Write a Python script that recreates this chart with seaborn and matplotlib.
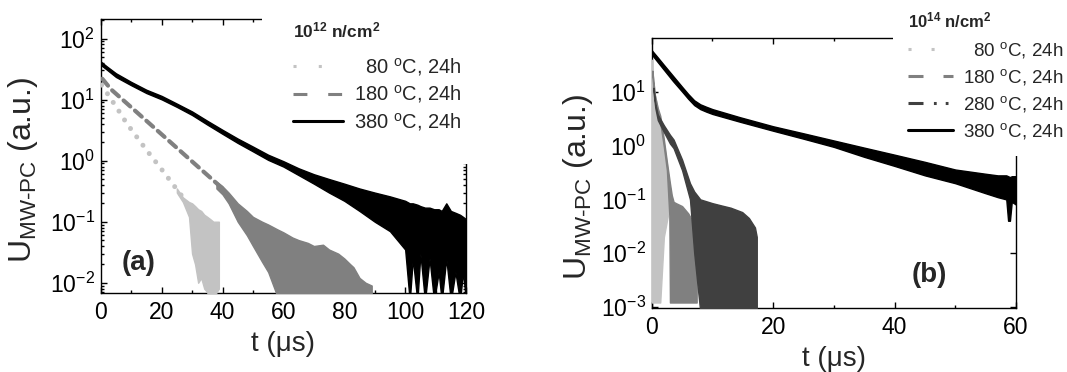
import numpy as np
import pandas as pd
import matplotlib
matplotlib.use("Agg")
import matplotlib.pyplot as plt
import seaborn as sns
from matplotlib.lines import Line2D
from matplotlib.ticker import LogLocator, MultipleLocator, NullFormatter, FixedLocator

# ---------------- data: panel (a) 10^12 n/cm^2 ----------------
a80_line_t = [0.3, 2.5, 5.8, 8.5, 15, 20, 27]
a80_line_v = [17.3, 11.9, 6.7, 4.1, 1.5, 0.72, 0.25]
a80_band_t = [25, 27, 29, 30, 31, 32, 33, 34, 35, 36, 37, 38, 38.8]
a80_band_hi = [0.35, 0.25, 0.21, 0.2, 0.18, 0.16, 0.15, 0.13, 0.12, 0.11, 0.1, 0.1, 0.1]
a80_band_lo = [0.3, 0.21, 0.12, 0.03, 0.02, 0.01, 0.012, 0.008, 0.007, 0.004, 0.004, 0.007, 0.008]

a180_line_t = [0.5, 3.4, 10, 20, 30, 40]
a180_line_v = [22, 14.7, 7.5, 2.7, 0.97, 0.35]
a180_band_t = [38, 40, 42, 45, 48, 50, 53, 55, 58, 60, 63, 65, 68, 70, 73, 75, 78, 80, 82, 83, 85, 87, 89]
a180_band_hi = [0.45, 0.38, 0.3, 0.2, 0.15, 0.12, 0.1, 0.09, 0.075, 0.067, 0.055, 0.05, 0.045, 0.04,
                0.042, 0.035, 0.03, 0.025, 0.02, 0.018, 0.012, 0.01, 0.009]
a180_band_lo = [0.35, 0.28, 0.2, 0.1, 0.06, 0.04, 0.022, 0.015, 0.006, 0.005, 0.005, 0.005, 0.005, 0.005,
                0.005, 0.005, 0.005, 0.005, 0.005, 0.005, 0.005, 0.005, 0.005]

a380_t = [0, 2, 5, 10, 15, 20, 25, 30, 35, 40, 45, 50, 55, 60, 65, 70, 75, 80, 85, 90, 95, 100,
          101.5, 102.5, 104, 105, 106.5, 108, 109.5, 111, 112, 113.5, 115, 116.5, 118, 119, 120]
a380_hi = [42, 35, 27, 19.5, 14.5, 11.5, 8.6, 6.4, 4.5, 3.2, 2.3, 1.7, 1.25, 0.98, 0.75, 0.6, 0.5, 0.42,
           0.35, 0.3, 0.26, 0.22, 0.2, 0.2, 0.19, 0.18, 0.17, 0.17, 0.16, 0.16, 0.15, 0.2, 0.15, 0.14,
           0.13, 0.12, 0.11]
a380_lo = [37, 31, 23.5, 17.2, 12.8, 10.1, 7.6, 5.6, 3.9, 2.75, 1.95, 1.42, 1.03, 0.8, 0.58, 0.42, 0.3,
           0.22, 0.15, 0.1, 0.07, 0.035, 0.005, 0.025, 0.005, 0.03, 0.005, 0.025, 0.005, 0.015, 0.005, 0.025,
           0.005, 0.015, 0.005, 0.015, 0.005]

# ---------------- data: panel (b) 10^14 n/cm^2 ----------------
b80_t = [0, 0.05, 0.5, 1.0, 1.4, 2.0, 2.5, 2.8, 3.3]
b80_hi = [40, 30, 9, 4.5, 3.2, 1.1, 0.45, 0.22, 0.1]
b80_lo = [40, 0.0012, 0.0012, 0.0012, 0.0012, 0.02, 0.04, 0.06, 0.1]

b180_t = [0.1, 0.5, 1.0, 1.4, 2.0, 2.5, 2.9, 3.0, 3.3, 3.6, 4.0, 5.0, 6.0, 7.0, 7.4]
b180_hi = [25, 9, 5, 3.6, 1.3, 0.5, 0.24, 0.2, 0.12, 0.09, 0.085, 0.075, 0.055, 0.035, 0.02]
b180_lo = [20, 7, 3.8, 2.7, 0.95, 0.35, 0.05, 0.0012, 0.0012, 0.0012, 0.0012, 0.0012, 0.0012, 0.0012, 0.0012]

b280_t = [0.3, 0.6, 1.0, 2.0, 3.0, 3.6, 5.0, 6.3, 7.0, 8.0, 10, 11.5, 13, 14.9, 16, 17.0, 17.3]
b280_hi = [12, 6, 3.8, 2.4, 1.6, 1.3, 0.55, 0.2, 0.14, 0.1, 0.085, 0.077, 0.07, 0.058, 0.045, 0.03, 0.02]
b280_lo = [10, 5, 3.0, 1.8, 1.1, 0.9, 0.35, 0.1, 0.01, 0.0008, 0.0008, 0.0008, 0.0008, 0.0008, 0.0008,
           0.0008, 0.0008]

b380_t = [0, 1, 2, 3.5, 5, 6, 7, 8, 9, 10, 14.5, 20, 25, 30, 35, 40, 45, 50, 55, 57, 58.4, 58.7, 59.0,
          59.3, 60]
b380_hi = [60, 44, 32, 20, 12.5, 9.2, 7.0, 5.9, 5.3, 4.8, 3.4, 2.3, 1.7, 1.25, 0.92, 0.68, 0.5, 0.36,
           0.3, 0.28, 0.28, 0.27, 0.26, 0.27, 0.27]
b380_lo = [50, 36, 26, 16, 10.2, 7.5, 5.7, 4.8, 4.3, 3.9, 2.8, 1.9, 1.35, 0.95, 0.62, 0.42, 0.28, 0.2,
           0.13, 0.11, 0.1, 0.04, 0.04, 0.09, 0.08]

a_labels = ["  80 $^{\\rm o}$C, 24h", "180 $^{\\rm o}$C, 24h", "380 $^{\\rm o}$C, 24h"]
b_labels = ["  80 $^{\\rm o}$C, 24h", "180 $^{\\rm o}$C, 24h", "280 $^{\\rm o}$C, 24h", "380 $^{\\rm o}$C, 24h"]
a_title = r"$\mathbf{10^{12}}$ n/cm$\mathbf{^{2}}$"
b_title = r"$\mathbf{10^{14}}$ n/cm$\mathbf{^{2}}$"

C80, C180, C280, C380 = "#c3c3c3", "#808080", "#404040", "#000000"

# ---------------- style ----------------
sns.set_theme(style="ticks")
plt.rcParams["font.family"] = ["Liberation Sans", "DejaVu Sans"]
plt.rcParams["mathtext.fontset"] = "custom"
plt.rcParams["mathtext.rm"] = "Liberation Sans"
plt.rcParams["mathtext.it"] = "Liberation Sans:italic"
plt.rcParams["mathtext.bf"] = "Liberation Sans:bold"
plt.rcParams["lines.scale_dashes"] = False
plt.rcParams["axes.linewidth"] = 1.0

fig = plt.figure(figsize=(10.67, 3.72), dpi=100)
axA = fig.add_axes([0.0944, 0.2124, 0.3424, 0.7358])
axB = fig.add_axes([0.6108, 0.1728, 0.3414, 0.7242])


def style_axis(ax, xmax, xmajor, xminor, ylim, yticks, xpad):
    ax.set_yscale("log")
    ax.set_xlim(0, xmax)
    ax.set_ylim(*ylim)
    ax.xaxis.set_major_locator(MultipleLocator(xmajor))
    ax.xaxis.set_minor_locator(MultipleLocator(xminor))
    ax.yaxis.set_major_locator(FixedLocator(yticks))
    ax.yaxis.set_minor_locator(LogLocator(base=10, subs=np.arange(2, 10)))
    ax.yaxis.set_minor_formatter(NullFormatter())
    ax.tick_params(which="both", direction="in", top=True, right=True, colors="black",
                   labelsize=16.5, width=1.0)
    ax.tick_params(which="major", length=4.5, pad=6)
    ax.tick_params(which="minor", length=2.5)
    ax.tick_params(axis="y", which="major", pad=4)
    for s in ax.spines.values():
        s.set_color("black")
        s.set_linewidth(1.0)
    ax.set_xlabel("t (μs)", fontsize=20, labelpad=xpad)
    ax.set_ylabel(r"U$_{\rm MW\text{-}PC}$ (a.u.)", fontsize=23)
    ax.grid(False)


# ---------------- panel (a) ----------------
axA.fill_between(a80_band_t, a80_band_lo, a80_band_hi, color=C80, lw=1.0, zorder=3)
sns.lineplot(x=a80_line_t, y=a80_line_v, ax=axA, color=C80, lw=3.6, errorbar=None,
             linestyle=(0, (0.01, 7.5)), dash_capstyle="round", zorder=3)
axA.fill_between(a180_band_t, a180_band_lo, a180_band_hi, color=C180, lw=1.0, zorder=4)
sns.lineplot(x=a180_line_t, y=a180_line_v, ax=axA, color=C180, lw=3.0, errorbar=None,
             linestyle=(0, (6.5, 4.5)), dash_capstyle="round", zorder=4)
axA.fill_between(a380_t, a380_lo, a380_hi, color=C380, lw=1.0, zorder=5)

style_axis(axA, 120, 20, 10, (0.0068, 207), [1e-2, 1e-1, 1e0, 1e1, 1e2], 5)
axA.yaxis.set_label_coords(-0.166, 0.45)

hA = [Line2D([], [], color=C80, lw=2.2, linestyle=(0, (2.2, 16)), dash_capstyle="butt"),
      Line2D([], [], color=C180, lw=2.2, linestyle=(0, (10, 15)), dash_capstyle="butt"),
      Line2D([], [], color=C380, lw=2.2)]
legA = axA.legend(hA, a_labels, title=a_title, loc="upper left",
                  bbox_to_anchor=(262 / 1067, 1.03), bbox_transform=fig.transFigure,
                  fontsize=14.5, title_fontproperties={"size": 12.5, "weight": "bold"},
                  frameon=True, facecolor="white", edgecolor="none", framealpha=1.0,
                  borderpad=1.55, borderaxespad=0, handlelength=2.45, handletextpad=0.55,
                  labelspacing=0.27, alignment="left", fancybox=False)
legA._legend_box.sep = 16 * 72 / 100
legA.set_zorder(2.8)
fig.text(139 / 1067, 1 - 263 / 372, "(a)", fontsize=20, fontweight="bold", ha="center", va="center")

# ---------------- panel (b) ----------------
axB.fill_between(b80_t, b80_lo, b80_hi, color=C80, lw=1.0, zorder=3)
axB.fill_between(b180_t, b180_lo, b180_hi, color=C180, lw=1.0, zorder=4)
axB.fill_between(b280_t, b280_lo, b280_hi, color=C280, lw=1.0, zorder=5)
axB.fill_between(b380_t, b380_lo, b380_hi, color=C380, lw=1.0, zorder=6)

style_axis(axB, 60, 20, 10, (0.00096, 100), [1e-3, 1e-2, 1e-1, 1e0, 1e1], 5)
axB.yaxis.set_label_coords(-0.156, 0.45)

hB = [Line2D([], [], color=C80, lw=2.2, linestyle=(0, (2.2, 14.4)), dash_capstyle="butt"),
      Line2D([], [], color=C180, lw=2.2, linestyle=(0, (10.8, 14.4)), dash_capstyle="butt"),
      Line2D([], [], color=C280, lw=2.2, linestyle=(0, (10.8, 7.5, 2, 6.5, 2, 20)), dash_capstyle="butt"),
      Line2D([], [], color=C380, lw=2.2)]
legB = axB.legend(hB, b_labels, title=b_title, loc="upper left",
                  bbox_to_anchor=(893 / 1067, 1.012), bbox_transform=fig.transFigure,
                  fontsize=13.5, title_fontproperties={"size": 12, "weight": "bold"},
                  frameon=True, facecolor="white", edgecolor="none", framealpha=1.0,
                  borderpad=0.8, borderaxespad=0, handlelength=2.4, handletextpad=0.55,
                  labelspacing=0.36, alignment="left", fancybox=False)
legB._legend_box.sep = 10 * 72 / 100
legB.set_zorder(2.8)
fig.text(929 / 1067, 1 - 275 / 372, "(b)", fontsize=20, fontweight="bold", ha="center", va="center")

fig.savefig("out.png", dpi=100)
